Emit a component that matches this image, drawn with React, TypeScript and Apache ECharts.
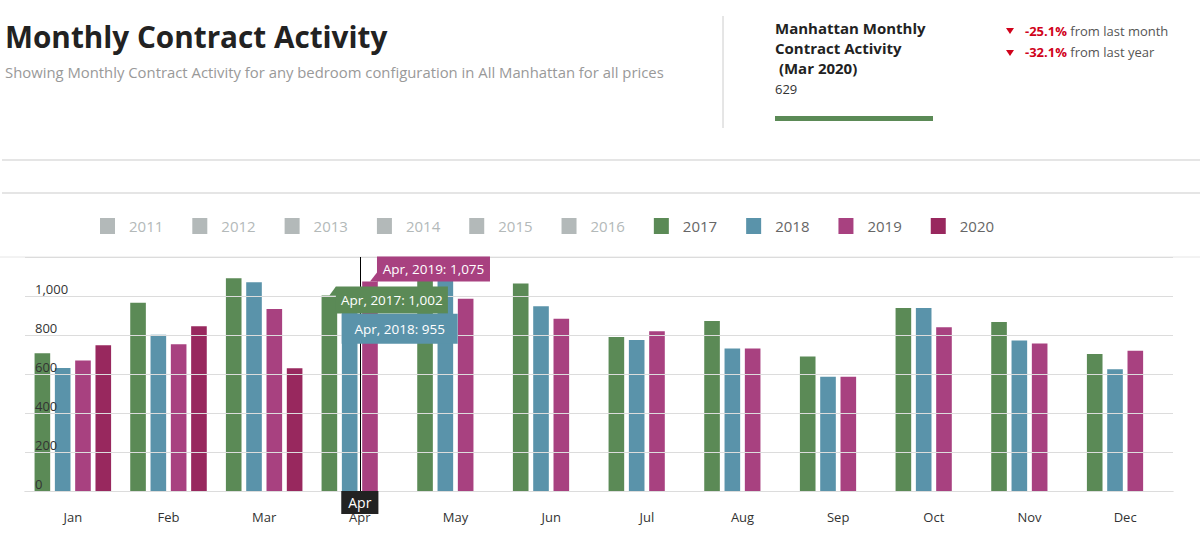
import React, { useEffect, useRef } from "react";
import * as echarts from "echarts";

const months = ["Jan", "Feb", "Mar", "Apr", "May", "Jun", "Jul", "Aug", "Sep", "Oct", "Nov", "Dec"];
const years = ["2011", "2012", "2013", "2014", "2015", "2016", "2017", "2018", "2019", "2020"];
const v2017 = [707, 965, 1091, 1002, 1110, 1064, 790, 872, 690, 938, 867, 702];
const v2018 = [631, 801, 1070, 955, 1095, 948, 774, 731, 586, 938, 772, 624];
const v2019 = [669, 752, 933, 1075, 986, 883, 819, 731, 586, 840, 757, 719];
const v2020 = [747, 845, 629, null, null, null, null, null, null, null, null, null];
const hiddenYears = ["2011", "2012", "2013", "2014", "2015", "2016"];
const yTicks = [0, 200, 400, 600, 800, 1000, 1200];

const GRAY = "#b3b9b9";
const COLORS = [GRAY, GRAY, GRAY, GRAY, GRAY, GRAY, "#5b8a56", "#5a93aa", "#a84180", "#98285e"];
const FONT = '"Open Sans", sans-serif';

export default function App() {
  const ref = useRef<HTMLDivElement>(null);
  useEffect(() => {
    const chart = echarts.init(ref.current!, null, { renderer: "svg" });
    const dataByYear: (number | null)[][] = years.map((y) => {
      if (y === "2017") return v2017;
      if (y === "2018") return v2018;
      if (y === "2019") return v2019;
      if (y === "2020") return v2020;
      return months.map(() => null);
    });
    const selected: Record<string, boolean> = {};
    years.forEach((y) => (selected[y] = !hiddenYears.includes(y)));

    const header: any[] = [
      { type: "text", x: 5, y: 36, style: { text: "Monthly Contract Activity", font: `bold 29.7px ${FONT}`, fill: "#222", verticalAlign: "middle" } },
      { type: "text", x: 5, y: 72, style: { text: "Showing Monthly Contract Activity for any bedroom configuration in All Manhattan for all prices", font: `14.85px ${FONT}`, fill: "#999", verticalAlign: "middle" } },
      { type: "line", shape: { x1: 723, y1: 16, x2: 723, y2: 128 }, style: { stroke: "#ccc", lineWidth: 1 } },
      { type: "text", x: 775, y: 28, style: { text: "Manhattan Monthly", font: `bold 15px ${FONT}`, fill: "#222", verticalAlign: "middle" } },
      { type: "text", x: 775, y: 48, style: { text: "Contract Activity", font: `bold 15px ${FONT}`, fill: "#222", verticalAlign: "middle" } },
      { type: "text", x: 775, y: 68, style: { text: " (Mar 2020)", font: `bold 15px ${FONT}`, fill: "#222", verticalAlign: "middle" } },
      { type: "text", x: 775, y: 89, style: { text: "629", font: `13px ${FONT}`, fill: "#333", verticalAlign: "middle" } },
      { type: "rect", shape: { x: 775, y: 116, width: 158, height: 5 }, style: { fill: "#5b8a56" } },
      { type: "polygon", shape: { points: [[1006, 28], [1014, 28], [1010, 34]] }, style: { fill: "#d0021b" } },
      { type: "polygon", shape: { points: [[1006, 50], [1014, 50], [1010, 56]] }, style: { fill: "#d0021b" } },
      {
        type: "text", x: 1025, y: 31,
        style: { text: "{a|-25.1%} from last month", font: `13px ${FONT}`, fill: "#555", verticalAlign: "middle",
          rich: { a: { fontFamily: FONT, fontSize: 13, fontWeight: "bold", fill: "#d0021b", color: "#d0021b" } } },
      },
      {
        type: "text", x: 1025, y: 52,
        style: { text: "{a|-32.1%} from last year", font: `13px ${FONT}`, fill: "#555", verticalAlign: "middle",
          rich: { a: { fontFamily: FONT, fontSize: 13, fontWeight: "bold", fill: "#d0021b", color: "#d0021b" } } },
      },
      { type: "line", shape: { x1: 2, y1: 160, x2: 1200, y2: 160 }, style: { stroke: "#ddd", lineWidth: 1.5 } },
      { type: "line", shape: { x1: 2, y1: 193, x2: 1200, y2: 193 }, style: { stroke: "#ddd", lineWidth: 1.5 } },
      { type: "line", shape: { x1: 0, y1: 257, x2: 1200, y2: 257 }, style: { stroke: "#e6e6e6", lineWidth: 1 } },
    ];

    chart.setOption({
      animation: false,
      textStyle: { fontFamily: FONT },
      grid: { left: 25, right: 27, top: 257, bottom: 50 },
      tooltip: { show: true, triggerOn: "none", showContent: false },
      legend: {
        top: 213, left: 95, itemWidth: 15, itemHeight: 16, itemGap: 29, icon: "rect",
        inactiveColor: GRAY, selectedMode: true, selected,
        textStyle: { color: "#666", fontSize: 15, fontFamily: FONT, padding: [0, 0, 0, 9] },
        data: years,
      },
      xAxis: {
        type: "category", data: months,
        axisTick: { show: false },
        axisLine: { lineStyle: { color: "#ccc" } },
        axisLabel: { color: "#333", fontSize: 13, margin: 19, fontFamily: FONT },
        axisPointer: {
          show: true, value: "Apr", status: "show", type: "line", triggerTooltip: false,
          lineStyle: { color: "#000", width: 1, type: "solid" },
          label: { show: true, backgroundColor: "#222", color: "#fff", fontSize: 14, fontFamily: FONT, padding: [4, 7, 5, 7], margin: 0, borderRadius: 0 },
        },
      },
      yAxis: {
        type: "value", min: 0, max: 1200, interval: 200,
        axisLine: { show: false }, axisTick: { show: false },
        axisLabel: {
          inside: true, margin: 10, color: "#333", fontSize: 13, fontFamily: FONT, verticalAlign: "bottom",
          padding: [0, 0, 1, 0],
          formatter: (v: number) => (v === yTicks[yTicks.length - 1] ? "" : v.toLocaleString("en-US")),
        },
        splitLine: { lineStyle: { color: "#dcdcdc" } },
        z: 10,
      },
      series: years.map((y, i) => ({
        name: y, type: "bar", data: dataByYear[i],
        itemStyle: { color: COLORS[i] },
        barGap: "30%", barCategoryGap: "20%",
      })),
      graphic: header,
    });

    // split-tooltip callouts for Apr, positioned from the data
    const aprIdx = 3;
    const cx = chart.convertToPixel({ xAxisIndex: 0 }, months[aprIdx]) as number;
    const bandW = (chart.convertToPixel({ xAxisIndex: 0 }, months[1]) as number) - (chart.convertToPixel({ xAxisIndex: 0 }, months[0]) as number);
    const groupW = bandW * 0.8;
    const barW = groupW / (4 + 3 * 0.3);
    const barX = (k: number) => cx - groupW / 2 + barW / 2 + k * barW * 1.3;
    const yPix = (v: number) => chart.convertToPixel({ yAxisIndex: 0 }, v) as number;

    const callout = (k: number, year: string, val: number, color: string, dx: number, dy: number, w: number, h: number, tri: boolean) => {
      const ax = barX(k);
      const ay = yPix(val);
      const bx = ax + dx;
      const by = ay + dy;
      const els: any[] = [];
      if (tri) {
        els.push({ type: "polygon", z: 100, shape: { points: [[bx, ay - 9], [bx + 1, ay], [ax, ay]] }, style: { fill: color } });
      }
      els.push({ type: "rect", z: 100, shape: { x: bx, y: by, width: w, height: h }, style: { fill: color } });
      els.push({
        type: "text", z: 101, x: bx + w / 2, y: by + h / 2,
        style: { text: `${months[aprIdx]}, ${year}: ${val.toLocaleString("en-US")}`, font: `13.5px ${FONT}`, fill: "#fff", align: "center", verticalAlign: "middle" },
      });
      return els;
    };

    const tips = [
      ...callout(2, "2019", v2019[aprIdx] as number, COLORS[8], 7, -25, 113, 25, true),
      ...callout(0, "2017", v2017[aprIdx] as number, COLORS[6], 6.5, -9, 112, 27, true),
      ...callout(1, "2018", v2018[aprIdx] as number, COLORS[7], -8, 9, 116, 30, false),
    ];
    chart.setOption({ graphic: [...header, ...tips] });

    return () => chart.dispose();
  }, []);
  return <div ref={ref} style={{ position: "absolute", left: 0, top: 0, width: 1200, height: 541 }} />;
}
